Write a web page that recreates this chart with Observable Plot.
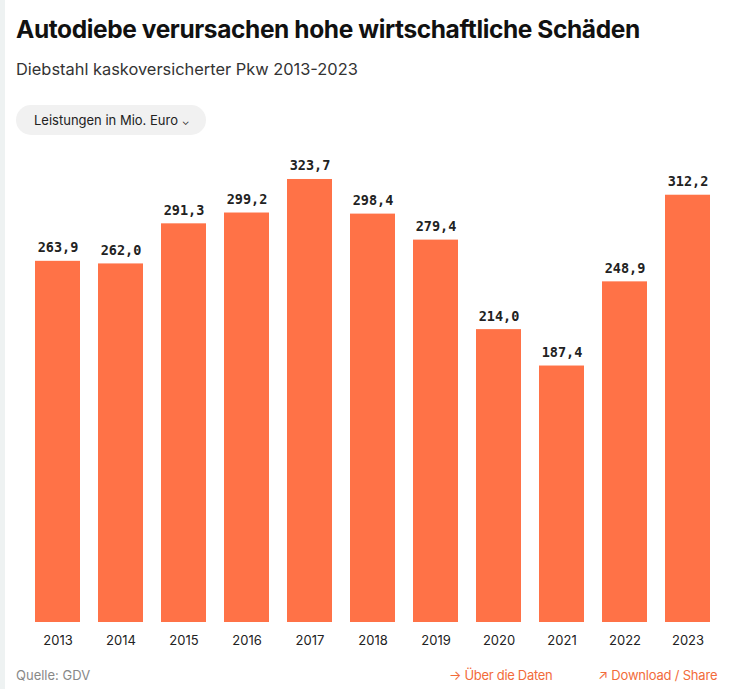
<!DOCTYPE html>
<html><head><meta charset="utf-8">
<script src="https://cdn.jsdelivr.net/npm/d3@7"></script>
<script src="https://cdn.jsdelivr.net/npm/@observablehq/plot@0.6"></script>
<style>
html,body{margin:0;padding:0;background:#fff;width:730px;height:689px;overflow:hidden;font-family:Inter,"Noto Sans",sans-serif;}
#strip{position:absolute;left:0;top:0;width:5px;height:689px;background:#eef2f2;}
#title{position:absolute;left:16px;top:14px;font-size:24.5px;font-weight:700;color:#111;letter-spacing:-0.4px;white-space:nowrap;}
#sub{position:absolute;left:16px;top:59px;font-size:16.4px;color:#333;white-space:nowrap;}
#btn{position:absolute;left:16px;top:105px;width:190px;height:30px;border-radius:15px;background:#f1f1f1;font-size:13px;color:#222;line-height:30px;box-sizing:border-box;padding-left:18px;white-space:nowrap;}
#chart{position:absolute;left:0;top:140px;}
#src{position:absolute;left:16px;top:667px;font-size:13px;color:#888;}
#l1{position:absolute;left:449px;top:667px;font-size:13px;color:#f26b3a;white-space:nowrap;letter-spacing:-0.3px;}
#l2{position:absolute;left:598px;top:667px;font-size:13px;color:#f26b3a;white-space:nowrap;letter-spacing:-0.2px;}
</style></head>
<body>
<div id="strip"></div>
<div id="title">Autodiebe verursachen hohe wirtschaftliche Schäden</div>
<div id="sub">Diebstahl kaskoversicherter Pkw 2013-2023</div>
<div id="btn">Leistungen in Mio. Euro <span style="font-size:10px">&#8964;</span></div>
<div id="chart"></div>
<div id="src">Quelle: GDV</div>
<div id="l1">&#8594; Über die Daten</div>
<div id="l2">&#8599; Download / Share</div>
<script>
const years = ["2013","2014","2015","2016","2017","2018","2019","2020","2021","2022","2023"];
const values = [263.9, 262.0, 291.3, 299.2, 323.7, 298.4, 279.4, 214.0, 187.4, 248.9, 312.2];
const data = years.map((y, i) => ({year: y, value: values[i]}));
const fmt = v => v.toFixed(1).replace(".", ",");
const chart = Plot.plot({
  width: 730,
  height: 520,
  marginLeft: 0, marginRight: 0, marginTop: 0, marginBottom: 38,
  style: {fontFamily: "Inter, 'Noto Sans', sans-serif", fontSize: "13px", color: "#222", background: "transparent"},
  x: {domain: years, range: [33, 711], paddingInner: 0.29, paddingOuter: 0, label: null},
  y: {domain: [0, 350], range: [482, 482 - 350 * 1.3686], axis: null},
  marks: [
    Plot.barY(data, {x: "year", y: "value", fill: "#ff7247"}),
    Plot.text(data, {x: "year", y: "value", text: d => fmt(d.value), dy: -9, lineAnchor: "bottom",
      fontFamily: "'DejaVu Sans Mono', monospace", fontWeight: "bold", fontSize: 13.5, fill: "#222"}),
    Plot.axisX({tickSize: 0, tickPadding: 13, label: null, fontSize: 13})
  ]
});
document.getElementById("chart").appendChild(chart);
</script>
</body></html>
